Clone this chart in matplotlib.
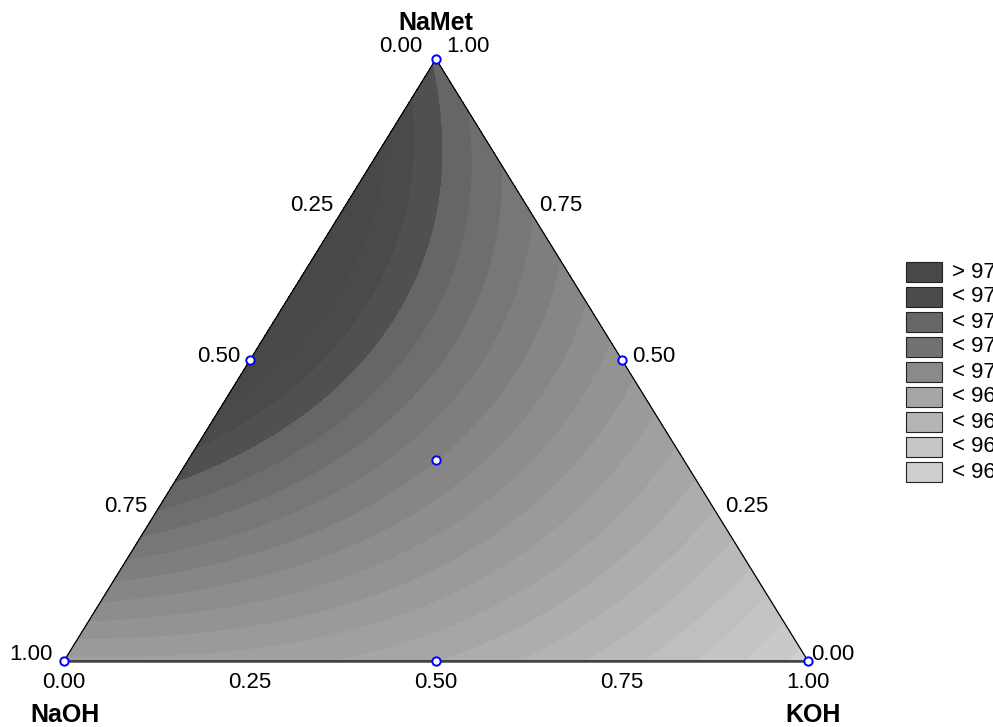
# mixture contour plot: NaOH / NaMet / KOH
import numpy as np
import matplotlib
matplotlib.use("Agg")
import matplotlib.pyplot as plt
import matplotlib.tri as mtri
from matplotlib.patches import Rectangle

plt.rcParams['font.family'] = ['Liberation Sans', 'DejaVu Sans']

naoh  = [1.0, 0.0, 0.0, 0.5, 0.5, 0.0, 1/3]
namet = [0.0, 1.0, 0.0, 0.5, 0.0, 0.5, 1/3]
koh   = [0.0, 0.0, 1.0, 0.0, 0.5, 0.5, 1/3]
resp  = [96.82, 97.63, 96.00, 97.93, 96.65, 97.00, 97.25]

# contour bands, light (low) to dark (high)
band_edges = [96.05 + 0.1*k for k in range(19)]
band_colors = ["#d0d0d0", "#c9c9c9", "#c4c4c4", "#bfbfbf", "#b9b9b9",
               "#b3b3b3", "#adadad", "#a6a6a6", "#a0a0a0", "#9a9a9a",
               "#939393", "#8d8d8d", "#868686", "#7e7e7e", "#777777",
               "#6e6e6e", "#666666", "#505050", "#4a4a4a", "#484848"]

legend_labels = ["> 97.75", "< 97.75", "< 97.50", "< 97.25", "< 97.00",
                 "< 96.75", "< 96.50", "< 96.25", "< 96.00"]
legend_colors = ["#484848", "#4b4b4b", "#666666", "#717171", "#8a8a8a",
                 "#a6a6a6", "#b5b5b5", "#c6c6c6", "#cfcfcf"]

ticks = [0.0, 0.25, 0.5, 0.75, 1.0]


def terms(a, b, c):
    a, b, c = np.asarray(a), np.asarray(b), np.asarray(c)
    return np.column_stack([a, b, c, a*b, a*c, b*c, a*b*c])


# special cubic Scheffe model through the design points
coef = np.linalg.solve(terms(naoh, namet, koh), np.array(resp))

H = 602.0 / 744.0  # triangle height/width as drawn


def to_xy(a, b, c):
    return np.asarray(c) + 0.5*np.asarray(b), H*np.asarray(b)


n = 160
g1, g2, g3 = [], [], []
for i in range(n + 1):
    for j in range(n + 1 - i):
        g3.append(i/n); g2.append(j/n); g1.append(1 - i/n - j/n)
g1, g2, g3 = np.array(g1), np.array(g2), np.array(g3)
gx, gy = to_xy(g1, g2, g3)
z = terms(g1, g2, g3) @ coef

W, Hpx = 993, 727
fig = plt.figure(figsize=(W/100, Hpx/100), dpi=100)
ax = fig.add_axes([0, 0, 1, 1])
sc = 744.0
ax.set_xlim(-64/sc, (W-64)/sc)
ax.set_ylim(-66/sc, (Hpx-66)/sc)
ax.axis('off')

tri = mtri.Triangulation(gx, gy)
ax.tricontourf(tri, z, levels=[80] + band_edges + [98.05, 110],
               colors=band_colors, antialiased=False)

# outline
vx, vy = to_xy([1, 0, 0, 1], [0, 1, 0, 0], [0, 0, 1, 0])
ax.plot(vx, vy, color='black', lw=0.9, zorder=3)
ax.plot(vx[2:], vy[2:], color='#444444', lw=1.8, zorder=3)

# design points
px, py = to_xy(naoh, namet, koh)
ax.plot(px, py, 'o', ms=6, mfc='white', mec='blue', mew=1.4, zorder=4,
        clip_on=False)

fs = 16


def lab(x, y, s, dx, dy, ha, size=fs, **kw):
    ax.annotate(s, (x, y), xytext=(dx, dy), textcoords='offset pixels',
                ha=ha, va='center', fontsize=size, **kw)


# left edge: NaOH fraction
for t in ticks:
    x, y = to_xy(t, 1 - t, 0)
    if t == 0.0:
        lab(x, y, "%.2f" % t, -14, 12, 'right')
    elif t == 1.0:
        lab(x, y, "%.2f" % t, -11, 7, 'right')
    else:
        lab(x, y, "%.2f" % t, -10, 4, 'right')
# right edge: NaMet fraction
for s in ticks:
    x, y = to_xy(0, s, 1 - s)
    if s == 1.0:
        lab(x, y, "%.2f" % s, 10, 12, 'left')
    elif s == 0.0:
        lab(x, y, "%.2f" % s, 3, 7, 'left')
    else:
        lab(x, y, "%.2f" % s, 10, 4, 'left')
# bottom: KOH fraction
for u in ticks:
    x, y = to_xy(1 - u, 0, u)
    lab(x, y, "%.2f" % u, 0, -22, 'center')

x, y = to_xy(0, 1, 0)
lab(x, y, "NaMet", 0, 36, 'center', size=18, fontweight='bold')
x, y = to_xy(1, 0, 0)
lab(x, y, "NaOH", 1, -54, 'center', size=18, fontweight='bold')
x, y = to_xy(0, 0, 1)
lab(x, y, "KOH", 5, -54, 'center', size=18, fontweight='bold')

# legend (runs off the right edge like the original)
for k, (txt, col) in enumerate(zip(legend_labels, legend_colors)):
    top = 262 + 25*k
    fig.patches.append(Rectangle((906/W, 1 - (top + 20)/Hpx), 36/W, 20/Hpx,
                                 transform=fig.transFigure, facecolor=col,
                                 edgecolor='#222222', lw=0.8))
    fig.text(952/W, 1 - (top + 10)/Hpx, txt, fontsize=fs, va='center',
             ha='left')

fig.savefig("out.png", dpi=100)
